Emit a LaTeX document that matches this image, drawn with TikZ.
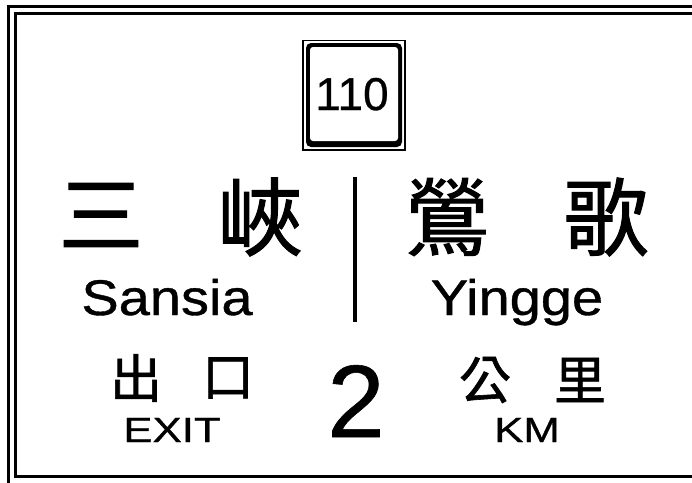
\documentclass[tikz,border=0pt]{standalone}
\usepackage{fontspec}
\setmainfont[FakeBold=0.6]{Liberation Sans}
\newfontfamily\cjk[FakeBold=1.2]{Noto Sans CJK TC}
\newfontfamily\namefont[FakeStretch=1.12,FakeBold=0.8]{Liberation Sans}
\newfontfamily\unitfont[FakeStretch=1.25,FakeBold=0.8]{Liberation Sans}

\begin{document}
\begin{tikzpicture}[x=1pt,y=-1pt,
  frameline/.style={line width=2.2pt},
  bigchar/.style={font=\cjk\fontsize{85}{85}\selectfont, inner sep=0pt},
  smallchar/.style={font=\cjk\fontsize{52}{52}\selectfont, inner sep=0pt},
  placename/.style={font=\namefont\fontsize{50}{50}\selectfont, anchor=base, inner sep=0pt},
  unitname/.style={font=\unitfont\fontsize{35}{35}\selectfont, anchor=base, inner sep=0pt}]
  \useasboundingbox (0,0) rectangle (692,482);
  % double frame, running off on the right
  \draw[frameline] (700,6.5) -- (8.5,6.5) -- (8.5,490);
  \draw[frameline] (700,13.5) -- (15.5,13.5) -- (15.5,476.5) -- (700,476.5);
  % route shield
  \draw[line width=1.2pt] (303,40.5) rectangle (405,150);
  \fill[rounded corners=5pt] (306,43) rectangle (402,147);
  \fill[white, rounded corners=3pt] (310,47) rectangle (398,141);
  \node[font=\fontsize{46}{46}\selectfont, anchor=base, inner sep=0pt] (route) at (352,110) {110};
  % destinations
  \node[bigchar] (san) at (101,215) {三};
  \node[bigchar] (xia) at (260,217) {峽};
  \node[bigchar] (ying) at (447,217) {鶯};
  \node[bigchar] (ge) at (606,217) {歌};
  \draw[line width=3.8pt] (355,177) -- (355,322);
  \node[placename] (sansia) at (167,315) {Sansia};
  \node[placename] (yingge) at (517,315) {Yingge};
  % distance
  \node[smallchar] (chu) at (136,378) {出};
  \node[smallchar] (kou) at (228,378) {口};
  \node[smallchar] (gong) at (485,380) {公};
  \node[smallchar] (li) at (580,380) {里};
  \node[font=\fontsize{103}{103}\selectfont, anchor=base, inner sep=0pt] (dist) at (356,437) {2};
  \node[unitname] (exit) at (172,442) {EXIT};
  \node[unitname] (km) at (527,442) {KM};
\end{tikzpicture}
\end{document}
